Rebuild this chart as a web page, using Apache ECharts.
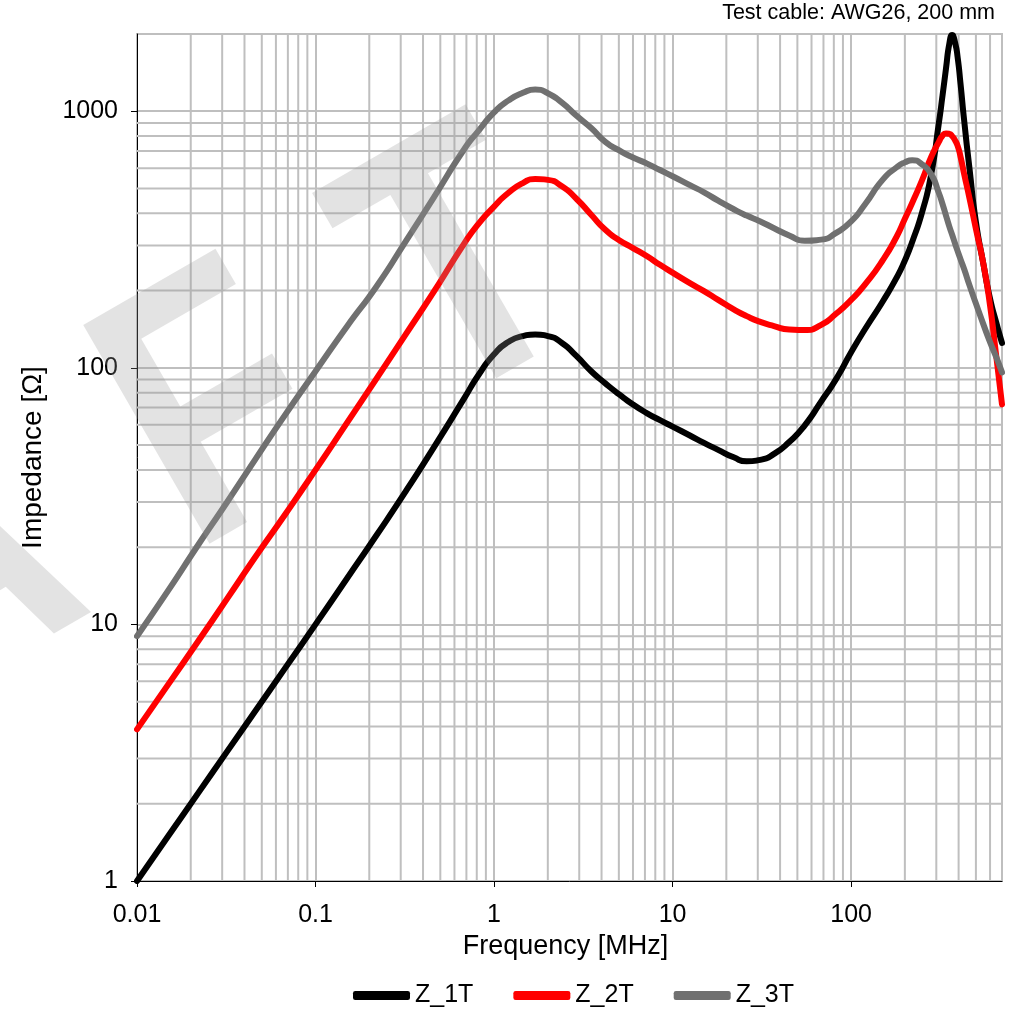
<!DOCTYPE html>
<html>
<head>
<meta charset="utf-8">
<script src="https://cdn.jsdelivr.net/npm/echarts@6/dist/echarts.min.js"></script>
<style>
html,body{margin:0;padding:0;background:#fff;}
#chart{width:1022px;height:1009px;}
</style>
</head>
<body>
<div id="chart"></div>
<script>
// ---- data ----
const freq = [0.01, 0.015, 0.022, 0.032, 0.046, 0.068, 0.1, 0.15, 0.22, 0.32, 0.46, 0.68, 0.82, 1.0, 1.2, 1.45, 1.7, 2.0, 2.4, 2.9, 3.5, 4.2, 5.0, 6.0, 7.2, 8.5, 10, 12.5, 15, 18, 22, 26, 31, 37, 45, 55, 68, 82, 100, 120, 150, 180, 200, 220, 250, 280, 310, 325, 340, 355, 368, 382, 395, 410, 430, 460, 500, 550, 600, 650, 700];
const z1T = [1.0, 1.5, 2.2, 3.2, 4.6, 6.8, 10, 15.1, 22.3, 33, 49, 76, 94, 113, 126, 133, 135, 133, 125, 111, 97, 87, 79, 72, 66.5, 62.5, 59, 54.5, 51, 47.9, 44.8, 43.2, 43.8, 46.2, 51.4, 59.7, 74, 90, 115, 142, 181, 225, 262, 310, 405, 561, 900, 1150, 1469, 1837, 1980, 1853, 1622, 1280, 916, 600, 370, 255, 186, 150, 125];
const z2T = [3.9, 5.85, 8.6, 12.6, 18.3, 27, 40, 61, 91, 135, 198, 305, 365, 425, 480, 525, 545, 540, 510, 455, 395, 345, 315, 293, 272, 252, 235, 214, 199, 184, 169, 159, 151, 145.5, 141, 140.5, 147, 162, 184, 212, 262, 325, 381, 440, 540, 660, 760, 803, 819, 816, 800, 770, 733, 665, 568, 459, 348, 255, 175, 111, 72];
const z3T = [9.0, 13.6, 20.4, 30, 44, 66, 97, 145, 208, 311, 462, 711, 840, 990, 1100, 1180, 1215, 1175, 1080, 960, 860, 760, 705, 660, 625, 590, 558, 515, 483, 448, 415, 392, 372, 350, 328, 313, 316, 335, 372, 435, 540, 605, 632, 644, 620, 570, 480, 435, 392, 355, 330, 305, 285, 265, 242, 210, 178, 148, 126, 110, 96];
const seriesNames = ['Z_1T', 'Z_2T', 'Z_3T'];

const xMajorTicks = [0.01, 0.1, 1, 10, 100];
const yMajorTicks = [1, 10, 100, 1000];
const xMinorGrid = [0.02,0.03,0.04,0.05,0.06,0.07,0.08,0.09, 0.2,0.3,0.4,0.5,0.6,0.7,0.8,0.9, 2,3,4,5,6,7,8,9, 20,30,40,50,60,70,80,90, 200,300,400,500,600];
const yMinorGrid = [2,3,4,5,6,7,8,9, 20,30,40,50,60,70,80,90, 200,300,400,500,600,700,800,900];
const xRange = [0.01, 700];
const yRange = [1, 2000];

const titleText = 'Test cable: AWG26, 200 mm';
const xName = 'Frequency [MHz]';
const yName = 'Impedance [\u03A9]';
const watermarkLetters = ['D', 'R', 'A', 'F', 'T'];

// ---- chart ----
const FONT = '"Liberation Sans", Arial, sans-serif';
const GRID = '#bfbfbf';
const colors = ['#000000', '#ff0000', '#707070'];
const values = [z1T, z2T, z3T];

function fmtLog(v) {
  const e = Math.round(Math.log10(v));
  return e < 0 ? Math.pow(10, e).toFixed(-e) : String(Math.round(Math.pow(10, e)));
}

const chart = echarts.init(document.getElementById('chart'), null, {renderer: 'canvas'});

// minor grid lines drawn as plain 2-point series through the axes
const gridLineSeries = []
  .concat(xMinorGrid.map(v => ({
    type: 'line', data: [[v, yRange[0]], [v, yRange[1]]],
    symbol: 'none', silent: true, z: 1, animation: false,
    lineStyle: {color: GRID, width: 2}, emphasis: {disabled: true}, tooltip: {show: false}
  })))
  .concat(yMinorGrid.map(v => ({
    type: 'line', data: [[xRange[0], v], [xRange[1], v]],
    symbol: 'none', silent: true, z: 1, animation: false,
    lineStyle: {color: GRID, width: 2}, emphasis: {disabled: true}, tooltip: {show: false}
  })));

const lineSeries = seriesNames.map((name, k) => ({
  name: name,
  type: 'line',
  data: freq.map((f, i) => [f, values[k][i]]),
  smooth: 0.6,
  symbol: 'none',
  showSymbol: false,
  lineStyle: {color: colors[k], width: 6, cap: 'round', join: 'round'},
  itemStyle: {color: colors[k]},
  z: 5 + k,
  silent: true
}));

// watermark "DRAFT": rotated 30deg, letters spaced along a slanted baseline
const wmAngle = Math.PI / 6;
const wmU = [Math.cos(wmAngle), -Math.sin(wmAngle)];
const wmV = [-Math.sin(wmAngle), -Math.cos(wmAngle)];
const wmBase = [497, 388];           // bottom-left of the T stem
const wmOffsets = [-1307, -990, -673, -347, -66];
const wmFont = 367, wmMid = 0.30 * wmFont;
const watermarkEls = watermarkLetters.map((ch, i) => {
  const s = wmOffsets[i];
  return {
    type: 'text',
    x: wmBase[0] + s * wmU[0] + wmMid * wmV[0],
    y: wmBase[1] + s * wmU[1] + wmMid * wmV[1],
    rotation: wmAngle,
    scaleX: 0.82, scaleY: 1,
    silent: true,
    z: 100,
    style: {
      text: ch,
      fill: 'rgba(150,150,150,0.27)',
      fontFamily: FONT,
      fontWeight: 'bold',
      fontSize: wmFont,
      align: 'left', verticalAlign: 'middle',
      textAlign: 'left', textVerticalAlign: 'middle'
    }
  };
});

const option = {
  animation: false,
  backgroundColor: '#ffffff',
  title: {
    text: titleText,
    right: 27,
    top: 2,
    padding: 0,
    textStyle: {fontFamily: FONT, fontSize: 21.5, fontWeight: 'normal', color: '#000'}
  },
  legend: {
    data: seriesNames,
    left: 353,
    top: 983,
    padding: 0,
    itemWidth: 57,
    itemHeight: 9,
    itemGap: 40,
    icon: 'roundRect',
    textStyle: {fontFamily: FONT, fontSize: 25, color: '#000'}
  },
  grid: {
    left: 137, right: 20, top: 34, bottom: 128,
    show: true, borderColor: GRID, borderWidth: 2, backgroundColor: 'transparent'
  },
  xAxis: {
    type: 'log', logBase: 10, min: xRange[0], max: xRange[1],
    name: xName, nameLocation: 'middle', nameGap: 48,
    nameTextStyle: {fontFamily: FONT, fontSize: 27, color: '#000', padding: [0, 8, 0, 0]},
    axisLine: {show: true, onZero: false, lineStyle: {color: '#000', width: 1}},
    axisTick: {show: true, length: 6, customValues: xMajorTicks, lineStyle: {color: '#000', width: 1}},
    axisLabel: {customValues: xMajorTicks, formatter: fmtLog, margin: 22, fontFamily: FONT, fontSize: 25, color: '#000'},
    splitLine: {show: true, lineStyle: {color: GRID, width: 2}},
    minorTick: {show: false}, minorSplitLine: {show: false}
  },
  yAxis: {
    type: 'log', logBase: 10, min: yRange[0], max: yRange[1],
    name: yName, nameLocation: 'middle', nameGap: 90, nameRotate: 90,
    nameTextStyle: {fontFamily: FONT, fontSize: 28, color: '#000'},
    axisLine: {show: true, onZero: false, lineStyle: {color: '#000', width: 1}},
    axisTick: {show: true, length: 6, customValues: yMajorTicks, lineStyle: {color: '#000', width: 1}},
    axisLabel: {customValues: yMajorTicks, formatter: fmtLog, margin: 19, fontFamily: FONT, fontSize: 25, color: '#000'},
    splitLine: {show: true, lineStyle: {color: GRID, width: 2}},
    minorTick: {show: false}, minorSplitLine: {show: false}
  },
  graphic: {elements: watermarkEls},
  series: gridLineSeries.concat(lineSeries)
};

chart.setOption(option);
</script>
</body>
</html>
